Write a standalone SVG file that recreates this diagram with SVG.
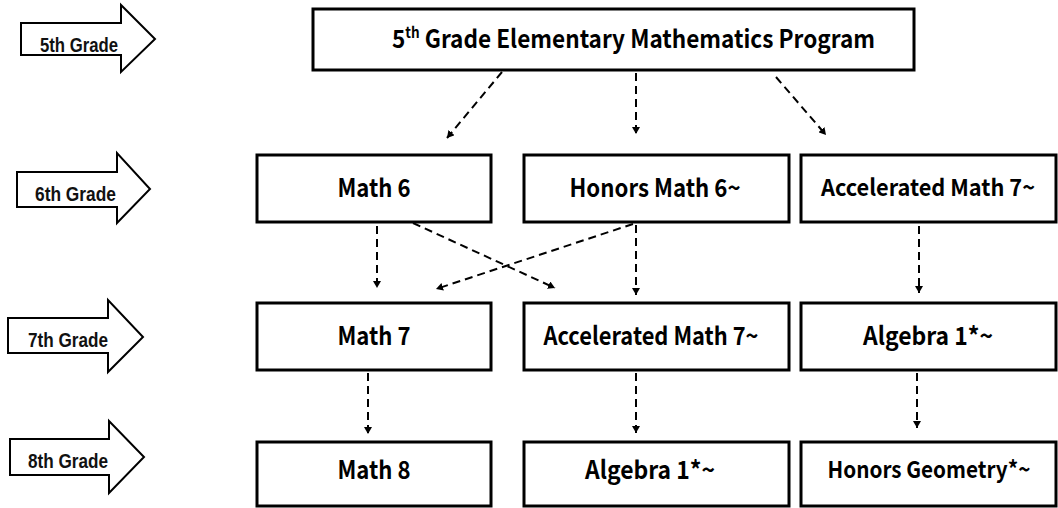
<svg xmlns="http://www.w3.org/2000/svg" width="1058" height="508" viewBox="0 0 1058 508">
<defs>
<style>
.grade{fill:#fff;stroke:#000;stroke-width:2;stroke-linejoin:miter}
.gtxt{font-family:"Liberation Sans",Arial,sans-serif;font-weight:bold;font-size:21px;fill:#111}
.box{fill:#fff;stroke:#000;stroke-width:3}
.btxt{font-family:"Noto Sans CJK KR","Noto Sans CJK SC",sans-serif;font-weight:bold;font-size:25px;fill:#000;text-anchor:middle}
.sm{font-size:23px}
.conn{fill:none;stroke:#000;stroke-width:2;stroke-dasharray:8 5;marker-end:url(#ah)}
</style>
<marker id="ah" markerUnits="userSpaceOnUse" markerWidth="8" markerHeight="8" refX="7" refY="4" orient="auto">
<path d="M0,0 L7,4 L0,8 z" fill="#000"/>
</marker>
</defs>
<g id="grade5"><polygon class="grade" points="21,23 121,23 121,5 155,39 121,72 121,55 21,55"/><text class="gtxt" x="40" y="52" textLength="78" lengthAdjust="spacingAndGlyphs">5th Grade</text></g>
<g id="grade6"><polygon class="grade" points="17,172 117,172 117,153 150,189 117,223 117,207 17,207"/><text class="gtxt" x="35" y="201" textLength="81" lengthAdjust="spacingAndGlyphs">6th Grade</text></g>
<g id="grade7"><polygon class="grade" points="8,318 108,318 108,300 143,337 108,372 108,353 8,353"/><text class="gtxt" x="28" y="347" textLength="80" lengthAdjust="spacingAndGlyphs">7th Grade</text></g>
<g id="grade8"><polygon class="grade" points="10,439 109,439 109,421 144,457 109,493 109,475 10,475"/><text class="gtxt" x="28" y="468" textLength="80" lengthAdjust="spacingAndGlyphs">8th Grade</text></g>
<g id="connectors">
<line class="conn" x1="502" y1="72" x2="447" y2="138"/>
<line class="conn" x1="636" y1="73" x2="636" y2="134"/>
<line class="conn" x1="776" y1="77" x2="826" y2="135"/>
<line class="conn" x1="377" y1="226" x2="377" y2="288"/>
<line class="conn" x1="413" y1="223" x2="555" y2="288"/>
<line class="conn" x1="633" y1="224" x2="436" y2="289"/>
<line class="conn" x1="636" y1="225" x2="636" y2="295"/>
<line class="conn" x1="919" y1="226" x2="919" y2="293"/>
<line class="conn" x1="368" y1="373" x2="368" y2="434"/>
<line class="conn" x1="636" y1="373" x2="636" y2="433"/>
<line class="conn" x1="917" y1="373" x2="917" y2="428"/>
</g>
<g id="top"><rect class="box" x="313" y="9" width="601" height="61"/><text class="btxt" x="392" y="48" style="text-anchor:start" textLength="483" lengthAdjust="spacingAndGlyphs">5<tspan font-size="15" dy="-10">th</tspan><tspan dy="10"> Grade Elementary Mathematics Program</tspan></text></g>
<g id="math6"><rect class="box" x="257" y="155" width="234" height="67"/><text class="btxt" x="374" y="197" textLength="73" lengthAdjust="spacingAndGlyphs">Math 6</text></g>
<g id="honors6"><rect class="box" x="524" y="155" width="265" height="67"/><text class="btxt" x="655" y="197" textLength="171" lengthAdjust="spacingAndGlyphs">Honors Math 6~</text></g>
<g id="accel7a"><rect class="box" x="801" y="155" width="255" height="67"/><text class="btxt sm" x="928" y="196" textLength="214" lengthAdjust="spacingAndGlyphs">Accelerated Math 7~</text></g>
<g id="math7"><rect class="box" x="257" y="303" width="234" height="67"/><text class="btxt" x="374" y="345" textLength="73" lengthAdjust="spacingAndGlyphs">Math 7</text></g>
<g id="accel7b"><rect class="box" x="524" y="303" width="265" height="67"/><text class="btxt" x="651" y="345" textLength="215" lengthAdjust="spacingAndGlyphs">Accelerated Math 7~</text></g>
<g id="alg1a"><rect class="box" x="801" y="303" width="255" height="67"/><text class="btxt" x="928" y="345" textLength="130" lengthAdjust="spacingAndGlyphs">Algebra 1*~</text></g>
<g id="math8"><rect class="box" x="257" y="442" width="234" height="64"/><text class="btxt" x="374" y="479" textLength="73" lengthAdjust="spacingAndGlyphs">Math 8</text></g>
<g id="alg1b"><rect class="box" x="524" y="442" width="265" height="64"/><text class="btxt" x="650" y="479" textLength="130" lengthAdjust="spacingAndGlyphs">Algebra 1*~</text></g>
<g id="hgeo"><rect class="box" x="801" y="442" width="255" height="64"/><text class="btxt sm" x="929" y="478" textLength="203" lengthAdjust="spacingAndGlyphs">Honors Geometry*~</text></g>
</svg>
